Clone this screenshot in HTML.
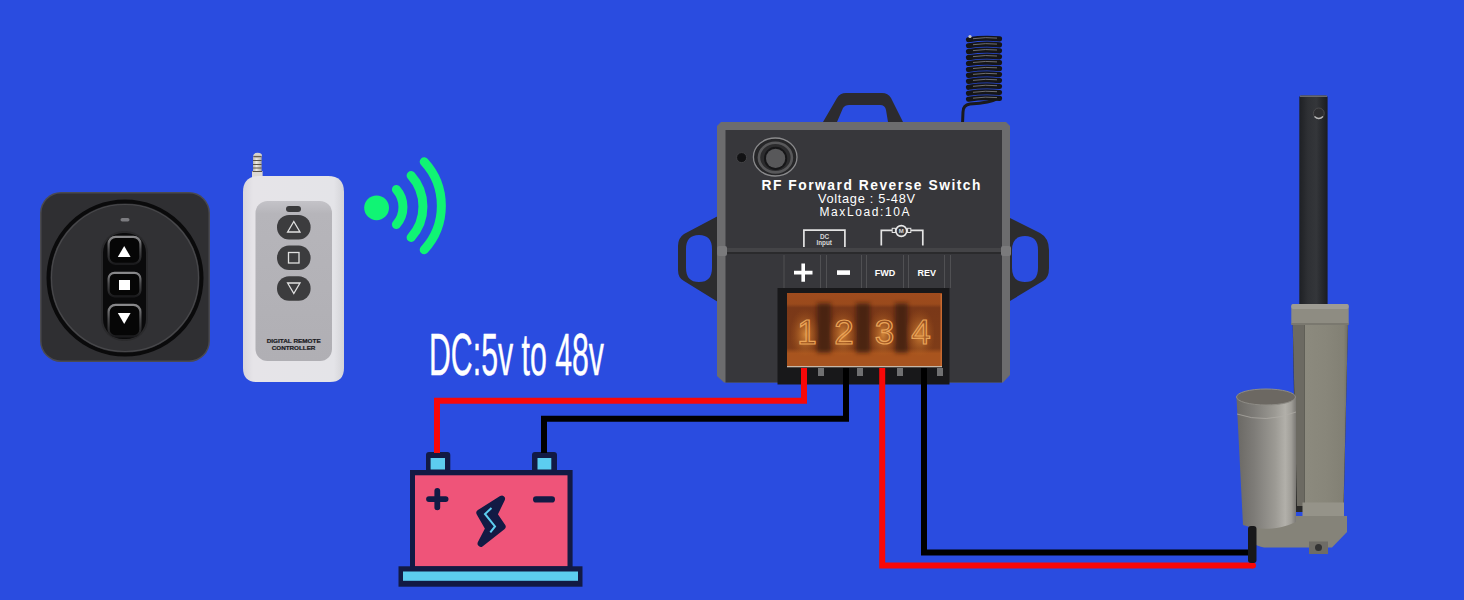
<!DOCTYPE html>
<html><head><meta charset="utf-8"><title>RF Forward Reverse Switch</title>
<style>
html,body{margin:0;padding:0;width:1464px;height:600px;overflow:hidden;background:#2a4ce0;font-family:"Liberation Sans",sans-serif;}
svg{position:absolute;left:0;top:0;display:block}
text{font-family:"Liberation Sans",sans-serif}
</style></head>
<body>
<svg width="1464" height="600" viewBox="0 0 1464 600">
<defs>
  <linearGradient id="rodG" x1="0" x2="1" y1="0" y2="0">
    <stop offset="0" stop-color="#1e2024"/><stop offset="0.3" stop-color="#2e3034"/><stop offset="0.6" stop-color="#34363a"/><stop offset="1" stop-color="#1a1c20"/>
  </linearGradient>
  <linearGradient id="tubeG" x1="0" x2="1" y1="0" y2="0">
    <stop offset="0" stop-color="#8c8a7e"/><stop offset="0.5" stop-color="#88867a"/><stop offset="0.9" stop-color="#828074"/><stop offset="1" stop-color="#706e66"/>
  </linearGradient>
  <linearGradient id="motG" x1="0" x2="1" y1="0" y2="0">
    <stop offset="0" stop-color="#6a6864"/><stop offset="0.3" stop-color="#7e7c78"/><stop offset="0.65" stop-color="#9c9a94"/><stop offset="0.82" stop-color="#b2b0aa"/><stop offset="0.92" stop-color="#a09e98"/><stop offset="1" stop-color="#7a7874"/>
  </linearGradient>
  <linearGradient id="btnG" x1="0" x2="0" y1="0" y2="1">
    <stop offset="0" stop-color="#6a6a6c"/><stop offset="0.25" stop-color="#1a1a1c"/><stop offset="0.8" stop-color="#060606"/><stop offset="1" stop-color="#2a2a2c"/>
  </linearGradient>
  <linearGradient id="remG" x1="0" x2="1" y1="0" y2="0">
    <stop offset="0" stop-color="#d8d6dc"/><stop offset="0.1" stop-color="#e6e4e8"/><stop offset="0.9" stop-color="#e4e4e8"/><stop offset="1" stop-color="#d4d4d8"/>
  </linearGradient>
  <linearGradient id="antG" x1="0" x2="1" y1="0" y2="0">
    <stop offset="0" stop-color="#b8b4ac"/><stop offset="0.4" stop-color="#ece8e2"/><stop offset="1" stop-color="#b0aca4"/>
  </linearGradient>
  <linearGradient id="orG" x1="0" x2="0" y1="0" y2="1">
    <stop offset="0" stop-color="#a04c1e"/><stop offset="0.15" stop-color="#9a4a1c"/><stop offset="0.2" stop-color="#7a3818"/><stop offset="0.75" stop-color="#7e3c18"/><stop offset="0.82" stop-color="#a8541e"/><stop offset="1" stop-color="#a85420"/>
  </linearGradient>
  <radialGradient id="digG" cx="0.5" cy="0.55" r="0.55">
    <stop offset="0" stop-color="#d88a3a" stop-opacity="0.9"/><stop offset="1" stop-color="#a0501a" stop-opacity="0"/>
  </radialGradient>
  <filter id="blur2" x="-50%" y="-50%" width="200%" height="200%"><feGaussianBlur stdDeviation="2"/></filter>
  <linearGradient id="panG" x1="0" x2="0" y1="0" y2="1">
    <stop offset="0" stop-color="#c4c3c8"/><stop offset="0.08" stop-color="#b6b5ba"/><stop offset="1" stop-color="#b0afb4"/>
  </linearGradient>
  <linearGradient id="rimG" x1="0" x2="0" y1="0" y2="1">
    <stop offset="0" stop-color="#8a8a8c"/><stop offset="0.45" stop-color="#4a4a4c"/><stop offset="1" stop-color="#1a1a1c"/>
  </linearGradient>
</defs>
<rect x="0" y="0" width="1464" height="600" fill="#2a4ce0"/>

<!-- WALL SWITCH -->
<g id="wall">
  <rect x="40" y="192" width="170" height="170" rx="21" fill="#4a4a50"/>
  <rect x="41.5" y="193.5" width="167" height="167" rx="19.5" fill="#2f2f32"/>
  <circle cx="125" cy="278" r="76.5" fill="#313134" stroke="#0a0a0b" stroke-width="4"/>
  <circle cx="125" cy="278" r="73.5" fill="none" stroke="#48484b" stroke-width="1.2"/>
  <rect x="120.5" y="218" width="9" height="3.5" rx="1.75" fill="#7c7c80"/>
  <rect x="101" y="231" width="47" height="110" rx="22" fill="#2a2a2c"/>
  <rect x="103" y="233" width="43" height="106" rx="20" fill="#0a0a0b"/>
  <rect x="108.6" y="236.8" width="31.8" height="27" rx="7" fill="#060606" stroke="url(#rimG)" stroke-width="2.2"/>
  <rect x="108.6" y="272.8" width="31.8" height="23.5" rx="6" fill="#060606" stroke="url(#rimG)" stroke-width="2.2"/>
  <rect x="108.6" y="304.8" width="31.8" height="31.5" rx="7" fill="#060606" stroke="url(#rimG)" stroke-width="2.2"/>
  <polygon points="124.2,246 130.6,257 117.8,257" fill="#fff"/>
  <rect x="119" y="280" width="11" height="10" fill="#fff"/>
  <polygon points="117.8,313 130.6,313 124.2,324" fill="#fff"/>
</g>

<!-- REMOTE -->
<g id="remote">
  <rect x="252" y="171" width="10.6" height="8" fill="#dcd8d4"/>
  <rect x="253" y="157" width="8.6" height="15" fill="url(#antG)"/>
  <g stroke="#5a5246" stroke-width="1.1"><path d="M253,160.5 h8.6 M253,164.5 h8.6 M253,168 h8.6 M252.5,171.5 h9.6"/></g>
  <ellipse cx="257.6" cy="155.6" rx="4.3" ry="2.8" fill="#d8d4cc"/>
  <path d="M253.6,156.6 h8" stroke="#6a6050" stroke-width="1.4"/>
  <path d="M243,192 Q243,176 259,176 L328,176 Q344,176 344,192 L344,368 Q344,382 330,382 L257,382 Q243,382 243,368 Z" fill="url(#remG)"/>
  <rect x="255.5" y="201" width="76.5" height="160" rx="12" fill="url(#panG)"/>
  <rect x="286" y="206" width="15" height="6" rx="3" fill="#3a3a3c"/>
  <rect x="277" y="215" width="33.6" height="24.5" rx="12" fill="#3c3c3e"/>
  <rect x="277" y="245.5" width="33.6" height="24.5" rx="12" fill="#3c3c3e"/>
  <rect x="277" y="276.2" width="33.6" height="24.5" rx="12" fill="#3c3c3e"/>
  <polygon points="293.8,221.5 300,232 287.6,232" fill="none" stroke="#e0e0e0" stroke-width="1.3"/>
  <rect x="288.5" y="252.5" width="10.5" height="10.5" fill="none" stroke="#e0e0e0" stroke-width="1.3"/>
  <polygon points="287.6,283 300,283 293.8,293.5" fill="none" stroke="#e0e0e0" stroke-width="1.3"/>
  <text x="266.7" y="343.2" font-size="5.6" font-weight="bold" fill="#1a1a22" stroke="#1a1a22" stroke-width="0.2" textLength="54" lengthAdjust="spacingAndGlyphs">DIGITAL REMOTE</text>
  <text x="271.7" y="349.5" font-size="5.6" font-weight="bold" fill="#1a1a22" stroke="#1a1a22" stroke-width="0.2" textLength="43.7" lengthAdjust="spacingAndGlyphs">CONTROLLER</text>
</g>

<!-- SIGNAL -->
<g id="signal" fill="none" stroke="#10f474" stroke-width="9" stroke-linecap="round">
  <circle cx="376.6" cy="207.8" r="12.4" fill="#10f474" stroke="none"/>
  <path d="M396.4,189.5 A26.6,26.6 0 0 1 396.4,224.5"/>
  <path d="M411.1,175.5 A46.5,46.5 0 0 1 411.1,237.5"/>
  <path d="M424.2,161.8 A65,65 0 0 1 424.2,249.8"/>
</g>

<!-- DC TEXT -->
<text x="429" y="374.6" font-size="60" fill="#fff" stroke="#fff" stroke-width="0.4" textLength="175" lengthAdjust="spacingAndGlyphs">DC:5v to 48v</text>

<!-- BATTERY -->
<g id="battery">
  <rect x="426" y="452" width="24.3" height="22" rx="3" fill="#121a44"/>
  <rect x="430.6" y="458" width="14.4" height="11.5" fill="#5ccdf0"/>
  <rect x="532" y="452" width="25" height="22" rx="3" fill="#121a44"/>
  <rect x="537.5" y="458" width="13.8" height="11.5" fill="#5ccdf0"/>
  <rect x="410" y="470" width="162.6" height="97" fill="#121a44"/>
  <rect x="415" y="475.3" width="152.5" height="91" fill="#ef5479"/>
  <rect x="398.5" y="566.3" width="184" height="20.4" fill="#121a44"/>
  <rect x="403" y="571.5" width="175" height="9.3" fill="#5ccdf0"/>
  <path d="M437.3,490.8 v16.6 M429,499.1 h16.6" stroke="#121a44" stroke-width="5.8" stroke-linecap="round"/>
  <path d="M536.1,499.4 h15.8" stroke="#121a44" stroke-width="6.2" stroke-linecap="round"/>
  <path d="M501.8,498.8 L494.2,514.6 L502.4,526.6 L480.8,543.6 L488.6,528.6 L479.6,512.8 Z" fill="#121a44" stroke="#121a44" stroke-width="6.5" stroke-linejoin="round"/>
  <path d="M491.5,508 L485,514 L495,526.4 L490.3,532.3" fill="none" stroke="#5ccdf0" stroke-width="2" stroke-linejoin="miter"/>
</g>

<!-- CONTROLLER BOX -->
<g id="box">
  <!-- antenna -->
  <path d="M999,98 Q990,103 970,104 Q963,105 963,112 L962.5,124" fill="none" stroke="#1a1a1c" stroke-width="3"/>
  <g id="coil">
    <path d="M968.5,39.7 Q984,37.3 999.5,38.9" fill="none" stroke="#151517" stroke-width="5.2" stroke-linecap="round"/>
    <path d="M968.5,45.7 Q984,43.2 999.5,44.9" fill="none" stroke="#151517" stroke-width="5.2" stroke-linecap="round"/>
    <path d="M968.5,51.6 Q984,49.2 999.5,50.8" fill="none" stroke="#151517" stroke-width="5.2" stroke-linecap="round"/>
    <path d="M968.5,57.6 Q984,55.1 999.5,56.8" fill="none" stroke="#151517" stroke-width="5.2" stroke-linecap="round"/>
    <path d="M968.5,63.5 Q984,61.1 999.5,62.7" fill="none" stroke="#151517" stroke-width="5.2" stroke-linecap="round"/>
    <path d="M968.5,69.5 Q984,67.0 999.5,68.7" fill="none" stroke="#151517" stroke-width="5.2" stroke-linecap="round"/>
    <path d="M968.5,75.4 Q984,73.0 999.5,74.6" fill="none" stroke="#151517" stroke-width="5.2" stroke-linecap="round"/>
    <path d="M968.5,81.4 Q984,79.0 999.5,80.6" fill="none" stroke="#151517" stroke-width="5.2" stroke-linecap="round"/>
    <path d="M968.5,87.3 Q984,84.9 999.5,86.5" fill="none" stroke="#151517" stroke-width="5.2" stroke-linecap="round"/>
    <path d="M968.5,93.3 Q984,90.9 999.5,92.5" fill="none" stroke="#151517" stroke-width="5.2" stroke-linecap="round"/>
    <path d="M968.5,99.2 Q984,96.8 999.5,98.4" fill="none" stroke="#151517" stroke-width="5.2" stroke-linecap="round"/>
    <path d="M973,38.7 Q986,36.9 997,38.1" fill="none" stroke="#8a8a8e" stroke-width="0.9" stroke-opacity="0.85"/>
    <path d="M973,44.7 Q986,42.9 997,44.1" fill="none" stroke="#8a8a8e" stroke-width="0.9" stroke-opacity="0.85"/>
    <path d="M973,50.6 Q986,48.8 997,50.0" fill="none" stroke="#8a8a8e" stroke-width="0.9" stroke-opacity="0.85"/>
    <path d="M973,56.6 Q986,54.8 997,56.0" fill="none" stroke="#8a8a8e" stroke-width="0.9" stroke-opacity="0.85"/>
    <path d="M973,62.5 Q986,60.7 997,61.9" fill="none" stroke="#8a8a8e" stroke-width="0.9" stroke-opacity="0.85"/>
    <path d="M973,68.5 Q986,66.7 997,67.8" fill="none" stroke="#8a8a8e" stroke-width="0.9" stroke-opacity="0.85"/>
    <path d="M973,74.4 Q986,72.6 997,73.8" fill="none" stroke="#8a8a8e" stroke-width="0.9" stroke-opacity="0.85"/>
    <path d="M973,80.4 Q986,78.6 997,79.8" fill="none" stroke="#8a8a8e" stroke-width="0.9" stroke-opacity="0.85"/>
    <path d="M973,86.3 Q986,84.5 997,85.7" fill="none" stroke="#8a8a8e" stroke-width="0.9" stroke-opacity="0.85"/>
    <path d="M973,92.3 Q986,90.5 997,91.7" fill="none" stroke="#8a8a8e" stroke-width="0.9" stroke-opacity="0.85"/>
    <path d="M973,98.2 Q986,96.4 997,97.6" fill="none" stroke="#8a8a8e" stroke-width="0.9" stroke-opacity="0.85"/>
    <circle cx="970" cy="36.5" r="1.6" fill="#c8c8cc"/>
  </g>
  <!-- handle -->
  <path d="M823,122 L837,98 Q840,93 846,93 L882,93 Q888,93 891,98 L903,122 L888,122 L886,110 Q885,105 880,105 L849,105 Q845,105 843,108 L837,122 Z" fill="#2c2b2f"/>
  <!-- tabs -->
  <path d="M718,216 L684,234 Q678,238 678,246 L678,270 Q678,278 684,281 L718,302 Z M699,235 Q712,235 712,249 L712,268 Q712,282 699,282 Q686,282 686,268 L686,249 Q686,235 699,235 Z" fill="#2c2c2e" fill-rule="evenodd"/>
  <path d="M1010,218 L1040,233 Q1049,238 1049,250 L1049,268 Q1049,278 1043,281 L1010,301 Z M1025,236 Q1038,236 1038,250 L1038,268 Q1038,282 1025,282 Q1012,282 1012,268 L1012,250 Q1012,236 1025,236 Z" fill="#2c2c2e" fill-rule="evenodd"/>
  <!-- body -->
  <polygon points="721,122 1006,122 1010,126 1010,375 1003,382.5 724,382.5 717,376 717,126" fill="#6c6c6e"/>
  <rect x="725.5" y="130" width="276.5" height="252.5" fill="#37373b"/>
  <rect x="725.5" y="248" width="276.5" height="4" fill="#444447"/>
  <rect x="725.5" y="252" width="276.5" height="2" fill="#2a2a2c"/>
  <rect x="717" y="246" width="10" height="10" rx="2" fill="#7a7a7c"/>
  <rect x="1001" y="246" width="10" height="10" rx="2" fill="#7a7a7c"/>
  <!-- button -->
  <circle cx="741.6" cy="157.6" r="5" fill="#121214" stroke="#4a4a4c" stroke-width="0.8"/>
  <ellipse cx="775.2" cy="157" rx="21.8" ry="19" fill="#262628" stroke="#8a8a8c" stroke-width="1.3"/>
  <ellipse cx="775.4" cy="157.6" rx="16.5" ry="14.8" fill="#2c2c2e" stroke="#58585a" stroke-width="2.6"/>
  <circle cx="775.6" cy="158.4" r="11.6" fill="#161618"/>
  <circle cx="775.6" cy="158.4" r="9.6" fill="#58585a"/>
  <!-- text -->
  <text x="761.5" y="189.6" font-size="13.8" font-weight="bold" fill="#fff" textLength="219" lengthAdjust="spacing">RF Forward Reverse Switch</text>
  <text x="818" y="202.6" font-size="12.8" fill="#fff" textLength="97" lengthAdjust="spacing">Voltage : 5-48V</text>
  <text x="819.5" y="216" font-size="12" fill="#fff" textLength="90" lengthAdjust="spacing">MaxLoad:10A</text>
  <!-- DC input bracket -->
  <path d="M803.9,247 V230.1 H844.9 V247" fill="none" stroke="#e4e4e4" stroke-width="1.7"/>
  <text x="824.5" y="238.8" font-size="6.4" font-weight="bold" fill="#d8d8d8" text-anchor="middle">DC</text>
  <text x="824.2" y="244.6" font-size="6.4" font-weight="bold" fill="#d8d8d8" text-anchor="middle">Input</text>
  <!-- motor bracket -->
  <path d="M881.3,245.5 V230.3 H892 M911,230.3 H922.8 V245.5" fill="none" stroke="#e4e4e4" stroke-width="1.7"/>
  <rect x="892.2" y="228.3" width="3.2" height="4.2" fill="#38383b" stroke="#e4e4e4" stroke-width="1"/>
  <rect x="907.6" y="228.3" width="3.2" height="4.2" fill="#38383b" stroke="#e4e4e4" stroke-width="1"/>
  <circle cx="901.3" cy="231" r="5.4" fill="#38383b" stroke="#e8e8e8" stroke-width="1.6"/>
  <text x="901.3" y="233.3" font-size="6" font-weight="bold" fill="#d8d8d8" text-anchor="middle">M</text>
  <!-- terminal labels -->
  <g fill="#505053">
    <rect x="783.5" y="255" width="1" height="33"/>
    <rect x="820" y="255" width="1" height="33"/>
    <rect x="826" y="255" width="1" height="33"/>
    <rect x="861" y="255" width="1" height="33"/>
    <rect x="866" y="255" width="1" height="33"/>
    <rect x="903" y="255" width="1" height="33"/>
    <rect x="908" y="255" width="1" height="33"/>
    <rect x="944" y="255" width="1" height="33"/>
    <rect x="950" y="255" width="1" height="33"/>
  </g>
  <path d="M794,272.6 h18.5 M803.2,263.5 v18.2" stroke="#fff" stroke-width="3.6"/>
  <path d="M837,272.6 h13" stroke="#fff" stroke-width="4.6"/>
  <text x="885" y="276" font-size="9" font-weight="bold" fill="#fff" text-anchor="middle">FWD</text>
  <text x="926.7" y="276" font-size="9" font-weight="bold" fill="#fff" text-anchor="middle">REV</text>
  <!-- terminal block -->
  <rect x="777.5" y="288" width="172" height="96.5" fill="#18181a"/>
  <rect x="787" y="293" width="155" height="73.5" fill="url(#orG)"/>
  <g fill="#2a1408" opacity="0.6" filter="url(#blur2)">
    <rect x="817" y="303" width="14" height="50"/>
    <rect x="856" y="303" width="14" height="50"/>
    <rect x="895" y="303" width="13" height="50"/>
  </g>
  <g fill="#c8c8c8" opacity="0.5">
    <rect x="818" y="368" width="6" height="8"/>
    <rect x="857" y="368" width="6" height="8"/>
    <rect x="897" y="368" width="6" height="8"/>
    <rect x="937" y="368" width="6" height="8"/>
  </g>
  <g fill="url(#digG)">
    <rect x="791" y="308" width="28" height="48"/>
    <rect x="829" y="308" width="28" height="48"/>
    <rect x="869" y="308" width="28" height="48"/>
    <rect x="906" y="308" width="28" height="48"/>
  </g>
  <g font-size="35" fill="none" stroke="#eaa458" stroke-width="1.2" text-anchor="middle">
    <text x="807" y="343.5">1</text>
    <text x="844" y="343.5">2</text>
    <text x="884.5" y="343.5">3</text>
    <text x="921" y="343.5">4</text>
  </g>
  <rect x="940.5" y="294" width="1.5" height="72" fill="#c86a30"/>
  <rect x="787" y="366" width="155" height="1.3" fill="#c8b8a8"/>
</g>

<!-- WIRES -->
<g fill="none" stroke-width="6" stroke-linejoin="miter">
  <polyline points="804,368 804,400.8 437,400.8 437,453" stroke="#f80808"/>
  <polyline points="846,368 846,418.8 544,418.8 544,453" stroke="#000"/>
  <polyline points="882.2,368 882.2,565.4 1253,565.4" stroke="#f80808"/>
  <circle cx="1253" cy="565.4" r="3" fill="#f80808" stroke="none"/>
  <polyline points="924,368 924,552.4 1250,552.4" stroke="#000"/>
</g>

<!-- ACTUATOR -->
<g id="actuator">
  <rect x="1299.3" y="95.5" width="28.3" height="212" rx="2" fill="url(#rodG)"/>
  <rect x="1300" y="95.5" width="27" height="1.5" fill="#6a6a6c"/>
  <circle cx="1318.8" cy="113.4" r="5.4" fill="#2e2e30" stroke="#4a4a4c" stroke-width="1"/>
  <path d="M1314.5,116.5 Q1318.8,120.5 1323,116.5" fill="none" stroke="#b8b8b8" stroke-width="1.3"/>
  <path d="M1292.7,322 L1348,322 L1343.5,512 L1296,512 Z" fill="#2a2a28"/>
  <path d="M1304.7,322 L1348,322 L1343.5,506 L1304.7,506 Z" fill="url(#tubeG)"/>
  <path d="M1292.7,322 L1304.7,322 L1304.7,506 L1297,506 Z" fill="#6c6a62"/>
  <rect x="1291.3" y="304" width="57.4" height="21" rx="2" fill="#8e8c82"/>
  <rect x="1291.3" y="304" width="57.4" height="5" rx="2" fill="#9e9c94"/>
  <rect x="1291.3" y="323" width="57.4" height="2" fill="#7a786f"/>
  <path d="M1302.5,502.5 L1344,502.5 L1344,516 L1302.5,516 Z" fill="#959389"/>
  <path d="M1255,516 L1347,516 L1347,532 L1332,547.5 L1264,547.5 Q1250,545 1250,536 L1250,528 Z" fill="#858379"/>
  <path d="M1236.5,397 L1296,397 L1296,522 Q1270,534 1243,525 Z" fill="url(#motG)"/>
  <ellipse cx="1266" cy="397" rx="29.5" ry="8" fill="#6c6862" stroke="#8e8c86" stroke-width="1"/>
  <path d="M1237,414 Q1266,424 1296,412" fill="none" stroke="#b0aea8" stroke-width="1" opacity="0.7"/>
  <rect x="1309" y="541.5" width="19" height="12.5" fill="#6e6c66"/>
  <circle cx="1318.5" cy="547.5" r="3.5" fill="#333"/>
  <rect x="1248" y="526" width="8.5" height="37" rx="3" fill="#18181a"/>
</g>
</svg>
</body></html>
